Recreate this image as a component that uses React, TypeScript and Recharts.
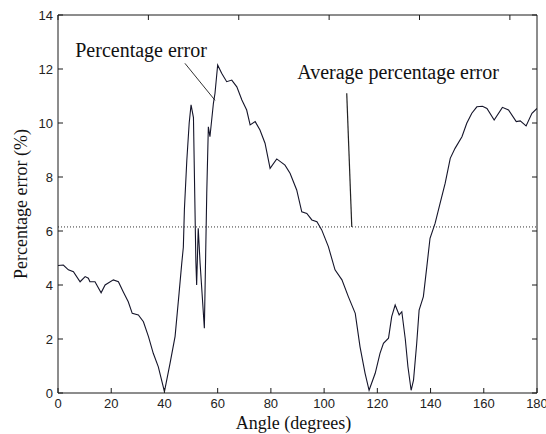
import React from 'react';
import {
  LineChart,
  Line,
  XAxis,
  YAxis,
  ReferenceLine,
  ReferenceDot,
} from 'recharts';

// angle (degrees) sampled along the curve
const angles = [
  0, 2, 3.9, 5.8, 8.3, 10.2, 11.4, 12, 13.9, 16.2, 17.7, 20.8, 22.7, 24.5, 26.4, 27.9,
  30.2, 32.1, 34, 35.8, 37.7, 40, 42.1, 44, 45.5, 46.5, 47.1, 47.5, 48.4, 49.3, 50,
  50.9, 51.8, 52.1, 52.7, 53.4, 55, 55.9, 56.5, 57.1, 58.4, 59, 60, 61.5, 63.4, 65.3,
  67.2, 69.1, 70.9, 72.2, 74.1, 75.9, 77.8, 79.7, 82.2, 85.3, 87.2, 89.7, 91.6, 93.5,
  95.4, 97.3, 99.1, 101.6, 104.1, 106.7, 109.1, 111.7, 113.5, 115.4, 116.9, 119.2, 121,
  122.3, 124.2, 125.4, 126.7, 128.2, 129.2, 130.5, 131.5, 132.7, 133.6, 134.8, 135.7,
  137.3, 138.6, 139.8, 141.7, 143.6, 145.5, 147.4, 149.2, 151.8, 153.6, 155.5, 157.4,
  159.5, 161.2, 163.9, 167, 169.3, 172.2, 173.7, 175.9, 178.1, 180,
];

// percentage error (%)
const errors = [
  4.72, 4.74, 4.56, 4.49, 4.12, 4.31, 4.25, 4.12, 4.12, 3.71, 4.0, 4.19, 4.12, 3.75, 3.38, 2.95,
  2.89, 2.64, 2.09, 1.47, 0.97, 0.05, 1.1, 2.1, 3.7, 4.8, 5.4, 6.8, 8.6, 10.0, 10.67,
  10.2, 4.9, 4.0, 6.1, 4.8, 2.4, 7.4, 9.86, 9.49, 10.73, 11.1, 12.15, 11.84, 11.53, 11.59,
  11.34, 10.85, 10.48, 9.93, 10.05, 9.74, 9.25, 8.32, 8.67, 8.44, 8.14, 7.52, 6.71, 6.65,
  6.41, 6.34, 6.04, 5.42, 4.56, 4.19, 3.57, 2.95, 1.71, 0.73, 0.1, 0.73, 1.47,
  1.84, 2.03, 2.83, 3.26, 2.89, 3.01, 2.0, 0.97, 0.1, 0.48, 1.84, 3.07,
  3.57, 4.68, 5.73, 6.28, 7.03, 7.77, 8.69, 9.06, 9.49, 9.99, 10.36, 10.6,
  10.62, 10.54, 10.11, 10.58, 10.48, 10.05, 10.08, 9.89, 10.36, 10.54,
];

const averageError = 6.15;

const xTicks = [0, 20, 40, 60, 80, 100, 120, 140, 160, 180];
const yTicks = [0, 2, 4, 6, 8, 10, 12, 14];

const data = angles.map((a, i) => ({ angle: a, error: errors[i] }));

const INK = '#1a1a1a';
const tickFont = { fontFamily: 'Liberation Sans, Arial, sans-serif', fontSize: 13, fill: '#222' };
const serif = 'Liberation Serif, Times New Roman, serif';

const BottomTick = (props: any) => {
  const { x, y, payload } = props;
  return (
    <g>
      <line x1={x} x2={x} y1={y} y2={y - 5} stroke={INK} />
      <text x={x} y={y + 15} textAnchor="middle" {...tickFont}>
        {payload.value}
      </text>
    </g>
  );
};

const TopTick = (props: any) => {
  const { x, y } = props;
  return <line x1={x} x2={x} y1={y} y2={y + 5} stroke={INK} />;
};

const LeftTick = (props: any) => {
  const { x, y, payload } = props;
  return (
    <g>
      <line x1={x} x2={x + 5} y1={y} y2={y} stroke={INK} />
      <text x={x - 5} y={y + 4.5} textAnchor="end" {...tickFont}>
        {payload.value}
      </text>
    </g>
  );
};

const RightTick = (props: any) => {
  const { x, y } = props;
  return <line x1={x} x2={x - 5} y1={y} y2={y} stroke={INK} />;
};

const Note = (text: string) => (props: any) => {
  const { viewBox } = props;
  const cx = viewBox.x + (viewBox.width || 0) / 2;
  const cy = viewBox.y + (viewBox.height || 0) / 2;
  return (
    <text x={cx} y={cy + 6} textAnchor="middle" fontFamily={serif} fontSize={20} fill="#111">
      {text}
    </text>
  );
};

export default function App() {
  return (
    <div style={{ position: 'absolute', left: 0, top: 0, background: '#fff' }}>
      <LineChart width={546} height={434} data={data} margin={{ top: 0, right: 0, bottom: 0, left: 0 }}>
        <XAxis
          dataKey="angle"
          type="number"
          domain={[0, 180]}
          ticks={xTicks}
          interval={0}
          height={41}
          tickSize={0}
          tickMargin={0}
          tickLine={false}
          tick={<BottomTick />}
          axisLine={{ stroke: INK }}
          allowDataOverflow
          label={{
            content: (p: any) => (
              <text
                x={p.viewBox.x + p.viewBox.width / 2 - 4}
                y={p.viewBox.y + 36}
                textAnchor="middle"
                fontFamily={serif}
                fontSize={18}
                fill="#111"
              >
                Angle (degrees)
              </text>
            ),
          }}
        />
        <XAxis
          xAxisId="top"
          orientation="top"
          type="number"
          domain={[0, 180]}
          ticks={xTicks}
          interval={0}
          height={15}
          tickSize={0}
          tickMargin={0}
          tickLine={false}
          tick={<TopTick />}
          axisLine={{ stroke: INK }}
          allowDataOverflow
        />
        <YAxis
          type="number"
          domain={[0, 14]}
          ticks={yTicks}
          interval={0}
          width={58}
          tickSize={0}
          tickMargin={0}
          tickLine={false}
          tick={<LeftTick />}
          axisLine={{ stroke: INK }}
          allowDataOverflow
          label={{
            content: (p: any) => {
              const x = p.viewBox.x + 27;
              const y = p.viewBox.y + p.viewBox.height / 2;
              return (
                <text
                  x={x}
                  y={y}
                  transform={`rotate(-90, ${x}, ${y})`}
                  textAnchor="middle"
                  fontFamily={serif}
                  fontSize={18}
                  fill="#111"
                >
                  Percentage error (%)
                </text>
              );
            },
          }}
        />
        <YAxis
          yAxisId="right"
          orientation="right"
          type="number"
          domain={[0, 14]}
          ticks={yTicks}
          interval={0}
          width={9}
          tickSize={0}
          tickMargin={0}
          tickLine={false}
          tick={<RightTick />}
          axisLine={{ stroke: INK }}
          allowDataOverflow
        />
        <ReferenceLine y={averageError} stroke="#333" strokeDasharray="1 2" strokeWidth={1} />
        <ReferenceLine
          segment={[
            { x: 47.7, y: 12.21 },
            { x: 59, y: 10.84 },
          ]}
          stroke="#333"
          strokeWidth={1}
        />
        <ReferenceLine
          segment={[
            { x: 108.5, y: 11.1 },
            { x: 110.4, y: averageError },
          ]}
          stroke="#222"
          strokeWidth={1.2}
        />
        <ReferenceDot x={31.2} y={12.67} r={0} stroke="none" fill="none" label={{ content: Note('Percentage error') }} />
        <ReferenceDot
          x={127.8}
          y={11.85}
          r={0}
          stroke="none"
          fill="none"
          label={{ content: Note('Average percentage error') }}
        />
        <Line
          dataKey="error"
          type="linear"
          stroke="#15152a"
          strokeWidth={1.1}
          dot={false}
          isAnimationActive={false}
        />
      </LineChart>
    </div>
  );
}
